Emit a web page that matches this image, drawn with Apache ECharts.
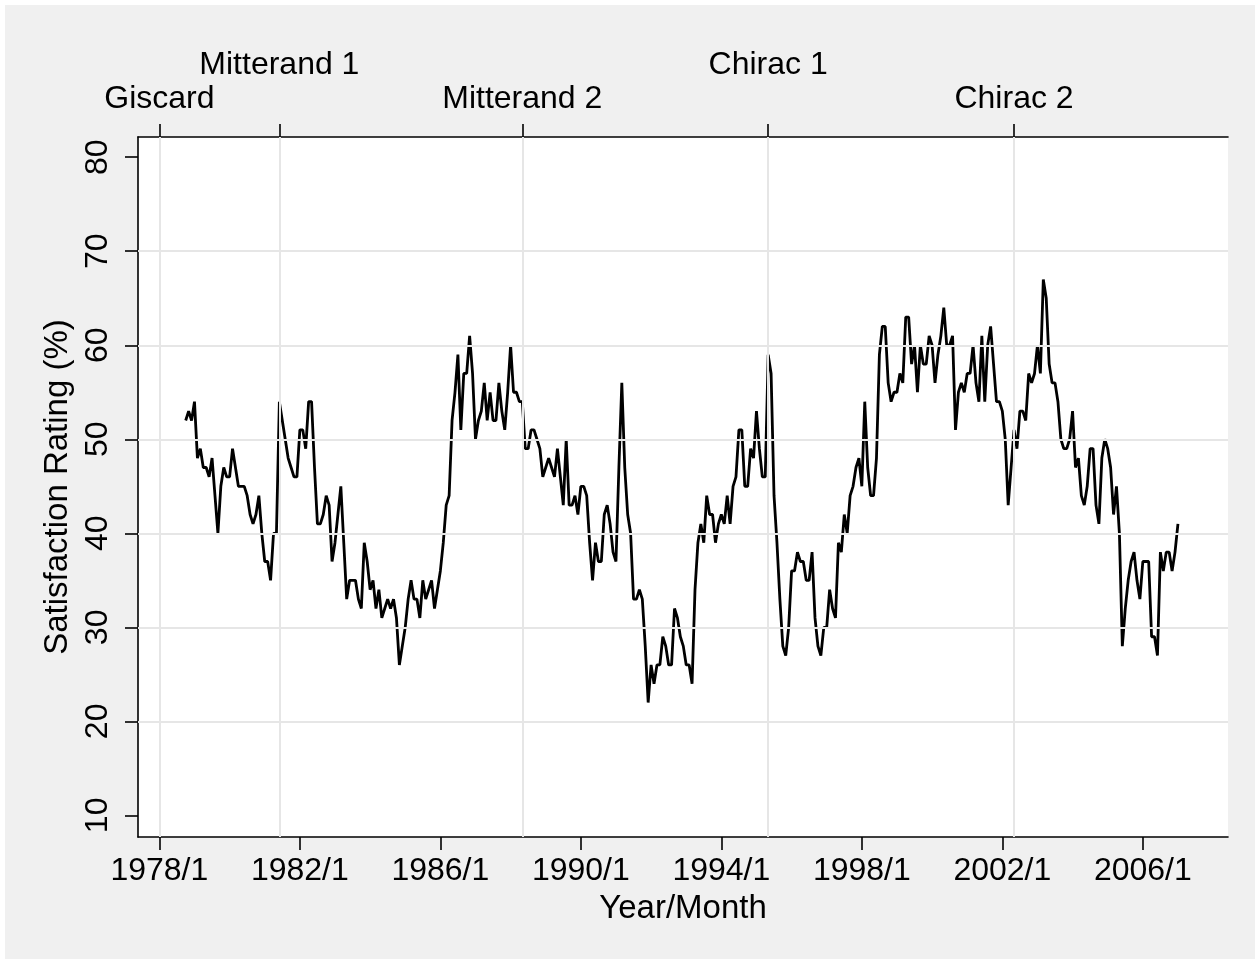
<!DOCTYPE html>
<html>
<head>
<meta charset="utf-8">
<title>Presidential satisfaction ratings</title>
<script src="https://cdn.jsdelivr.net/npm/echarts@6/dist/echarts.min.js"></script>
<style>
  html, body { margin: 0; padding: 0; background: #ffffff; }
  #wrap { position: relative; width: 1260px; height: 964px; background: #ffffff; }
  #bg { position: absolute; left: 5px; top: 5px; width: 1250px; height: 954px; background: #f0f0f0; }
  #chart { position: absolute; left: 0; top: 0; width: 1260px; height: 964px; }
</style>
</head>
<body>
<div id="wrap"><div id="bg"></div><div id="chart"></div></div>
<script>
// Monthly satisfaction ratings (%), first poll 1978/10, one value per month.
const firstPoll = '1978/10';

const giscard = [52, 53, 52, 54, 48, 49, 47, 47, 46, 48, 44, 40, 45, 47, 46, 46,
  49, 47, 45, 45, 45, 44, 42, 41, 42, 44, 40, 37, 37, 35, 40, 40];

const mitterand1 = [54, 52, 50, 48, 47, 46, 46, 51, 51, 49, 54, 54, 47, 41, 41, 42,
  44, 43, 37, 39, 42, 45, 39, 33, 35, 35, 35, 33, 32, 39, 37, 34, 35, 32, 34, 31,
  32, 33, 32, 33, 31, 26, 28, 30, 33, 35, 33, 33, 31, 35, 33, 34, 35, 32, 34, 36,
  39, 43, 44, 52, 55, 59, 51, 57, 57, 61, 57, 50, 52, 53, 56, 52, 55, 52, 52, 56,
  53, 51, 55, 60, 55, 55, 54];

const mitterand2 = [54, 49, 49, 51, 51, 50, 49, 46, 47, 48, 47, 46, 49, 46, 43, 50,
  43, 43, 44, 42, 45, 45, 44, 39, 35, 39, 37, 37, 42, 43, 41, 38, 37, 47, 56, 47,
  42, 40, 33, 33, 34, 33, 28, 22, 26, 24, 26, 26, 29, 28, 26, 26, 32, 31, 29, 28,
  26, 26, 24, 34, 39, 41, 39, 44, 42, 42, 39, 41, 42, 41, 44, 41, 45, 46, 51, 51,
  45, 45, 49, 48, 53, 49, 46, 46];

const chirac1 = [59, 57, 44, 39, 33, 28, 27, 30, 36, 36, 38, 37, 37, 35, 35, 38,
  31, 28, 27, 30, 30, 34, 32, 31, 39, 38, 42, 40, 44, 45, 47, 48, 45, 54, 47, 44,
  44, 48, 59, 62, 62, 56, 54, 55, 55, 57, 56, 63, 63, 58, 60, 55, 60, 58, 58, 61,
  60, 56, 59, 61, 64, 60, 60, 61, 51, 55, 56, 55, 57, 57, 60, 56, 54, 61, 54, 60,
  62, 58, 54, 54, 53, 50, 43, 47];

const chirac2 = [51, 49, 53, 53, 52, 57, 56, 57, 60, 57, 67, 65, 58, 56, 56, 54,
  50, 49, 49, 50, 53, 47, 48, 44, 43, 45, 49, 49, 43, 41, 48, 50, 49, 47, 42, 45,
  40, 28, 32, 35, 37, 38, 35, 33, 37, 37, 37, 29, 29, 27, 38, 36, 38, 38, 36, 38, 41];

// Presidential terms, marked on the top axis (names alternate between two rows)
const termNames = ['Giscard', 'Mitterand 1', 'Mitterand 2', 'Chirac 1', 'Chirac 2'];
const termMarks = ['1978/1', '1981/6', '1988/5', '1995/5', '2002/5'];
const termUpperRow = [false, true, false, true, false];

// Bottom axis and left axis ticks
const yearTicks = ['1978/1', '1982/1', '1986/1', '1990/1', '1994/1', '1998/1', '2002/1', '2006/1'];
const ratingTicks = [10, 20, 30, 40, 50, 60, 70, 80];
const ratingGrid = [20, 30, 40, 50, 60, 70];

// Months counted from 1978/1
const BASE_YEAR = 1978;
function toMonth(label) {
  const [y, m] = label.split('/').map(Number);
  return (y - BASE_YEAR) * 12 + (m - 1);
}

const ratings = [].concat(giscard, mitterand1, mitterand2, chirac1, chirac2);
const start = toMonth(firstPoll);
const lineData = ratings.map((v, i) => [start + i, v]);

const yearTickMonths = yearTicks.map(toMonth);
const termMonths = termMarks.map(toMonth);
const lowerRowMonths = termMonths.filter((m, i) => !termUpperRow[i]);
const upperRowMonths = termMonths.filter((m, i) => termUpperRow[i]);
const termName = v => termNames[termMonths.indexOf(v)] || '';

const FONT = '"Liberation Sans", Arial, Helvetica, sans-serif';
const black = '#000000';
const gridGray = '#e6e6e6';

const xMin = -7.3, xMax = 365.1;
const yMin = 7.7, yMax = 82.15;

const labelFont = { fontFamily: FONT, fontSize: 32, color: black };
const axisStroke = { color: black, width: 1.6 };

const chart = echarts.init(document.getElementById('chart'), null, { renderer: 'canvas' });

chart.setOption({
  animation: false,
  backgroundColor: 'transparent',
  grid: {
    left: 138, top: 137, right: 32, bottom: 127,
    show: true, backgroundColor: '#ffffff', borderWidth: 0
  },
  xAxis: [
    {
      type: 'value', position: 'bottom', min: xMin, max: xMax,
      name: 'Year/Month', nameLocation: 'middle', nameGap: 55,
      nameTextStyle: { fontFamily: FONT, fontSize: 33, color: black },
      axisLine: { show: true, onZero: false, lineStyle: axisStroke },
      axisTick: { show: true, customValues: yearTickMonths, length: 13, lineStyle: axisStroke },
      axisLabel: Object.assign({
        show: true, customValues: yearTickMonths, margin: 18,
        showMinLabel: true, showMaxLabel: true, hideOverlap: false,
        formatter: v => yearTicks[yearTickMonths.indexOf(v)] || ''
      }, labelFont),
      splitLine: { show: false }
    },
    {
      // term ticks and the lower row of names
      type: 'value', position: 'top', min: xMin, max: xMax,
      axisLine: { show: true, onZero: false, lineStyle: axisStroke },
      axisTick: { show: true, customValues: termMonths, length: 13, lineStyle: axisStroke },
      axisLabel: Object.assign({
        show: true, customValues: lowerRowMonths, margin: 22,
        showMinLabel: true, showMaxLabel: true, hideOverlap: false,
        formatter: termName
      }, labelFont),
      splitLine: { show: false }
    },
    {
      // upper row of names
      type: 'value', position: 'top', min: xMin, max: xMax,
      axisLine: { show: false, onZero: false },
      axisTick: { show: false },
      axisLabel: Object.assign({
        show: true, customValues: upperRowMonths, margin: 56,
        showMinLabel: true, showMaxLabel: true, hideOverlap: false,
        formatter: termName
      }, labelFont),
      splitLine: { show: false }
    }
  ],
  yAxis: {
    type: 'value', min: yMin, max: yMax,
    name: 'Satisfaction Rating (%)', nameLocation: 'middle', nameGap: 59, nameRotate: 90,
    nameTextStyle: { fontFamily: FONT, fontSize: 33, color: black },
    axisLine: { show: true, onZero: false, lineStyle: axisStroke },
    axisTick: { show: true, customValues: ratingTicks, length: 13, lineStyle: axisStroke },
    axisLabel: Object.assign({
      show: true, customValues: ratingTicks, rotate: 90, margin: 24,
      showMinLabel: true, showMaxLabel: true
    }, labelFont),
    splitLine: { show: false }
  },
  series: [
    {
      // light reference grid: term boundaries and rating levels
      type: 'line', data: [], z: 1, silent: true,
      markLine: {
        silent: true, symbol: ['none', 'none'], label: { show: false },
        lineStyle: { color: gridGray, width: 2, type: 'solid' },
        emphasis: { disabled: true },
        data: termMonths.map(m => ({ xAxis: m })).concat(ratingGrid.map(v => ({ yAxis: v })))
      }
    },
    {
      name: 'Satisfaction', type: 'line', data: lineData, z: 3,
      showSymbol: false, symbol: 'none',
      lineStyle: { color: black, width: 2.8 },
      itemStyle: { color: black }
    }
  ]
});
</script>
</body>
</html>
